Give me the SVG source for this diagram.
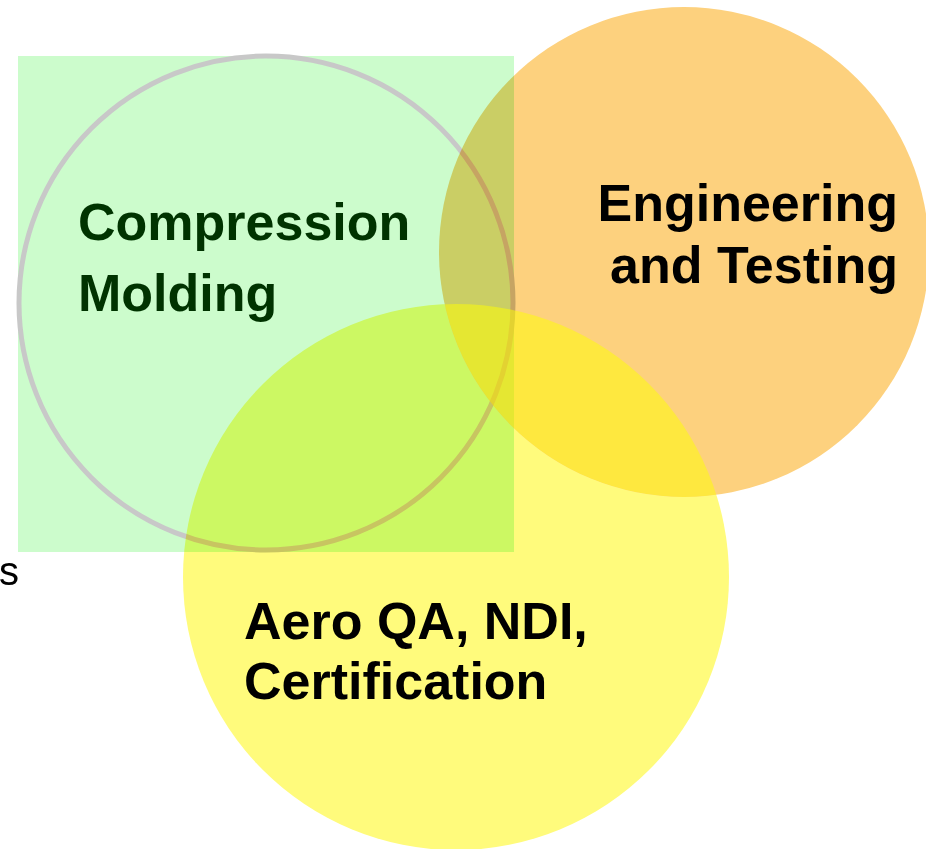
<svg xmlns="http://www.w3.org/2000/svg" width="926" height="849" viewBox="0 0 926 849">
  <style>
    .lbl { font-family: "Liberation Sans", Arial, sans-serif; font-weight: bold; font-size: 52px; fill: #000000; }
    .green-lbl { fill: #003300; }
    .blend { mix-blend-mode: multiply; }
  </style>
  <defs>
    <!-- yellow disc tints by multiply outside the orange disc, and sits on top with plain alpha inside it -->
    <mask id="outside-orange" maskUnits="userSpaceOnUse" x="0" y="0" width="926" height="849">
      <rect width="926" height="849" fill="#ffffff"/>
      <circle cx="684" cy="252" r="245" fill="#000000"/>
    </mask>
    <clipPath id="inside-orange">
      <circle cx="684" cy="252" r="245"/>
    </clipPath>
  </defs>
  <rect width="926" height="849" fill="#ffffff"/>
  <text x="-1" y="585" font-family="Liberation Sans, Arial, sans-serif" font-size="40" fill="#000000">s</text>

  <g id="compression-molding">
    <rect x="18" y="56" width="496" height="496" fill="#ccfccc"/>
    <circle cx="266" cy="303" r="247" fill="none" stroke="#c8c8c8" stroke-width="5"/>
  </g>

  <g id="engineering-testing">
    <circle class="blend" cx="684" cy="252" r="245" fill="#fdd17e"/>
  </g>

  <g id="aero-qa">
    <circle class="blend" cx="456" cy="577" r="273" fill="#fffb7c" mask="url(#outside-orange)"/>
    <circle cx="456" cy="577" r="273" fill="#ffff00" fill-opacity="0.5" clip-path="url(#inside-orange)"/>
  </g>

  <g id="labels">
    <text class="lbl green-lbl" x="78" y="240">Compression</text>
    <text class="lbl green-lbl" x="78" y="311">Molding</text>
    <text class="lbl" x="898" y="221" text-anchor="end">Engineering</text>
    <text class="lbl" x="898" y="283" text-anchor="end">and Testing</text>
    <text class="lbl" x="244" y="639">Aero QA, NDI,</text>
    <text class="lbl" x="244" y="699">Certification</text>
  </g>
</svg>
